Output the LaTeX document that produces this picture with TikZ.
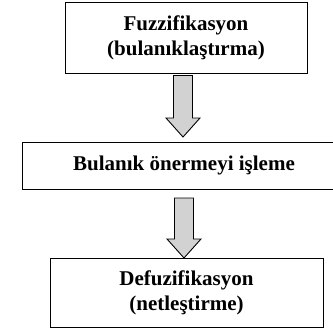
\documentclass[tikz,border=0pt]{standalone}
\usepackage{fontspec}
\setmainfont{Liberation Serif}
\usetikzlibrary{calc}
\tikzset{
  stage/.style={draw=black, line width=0.9pt, font=\bfseries\fontsize{21}{25}\selectfont, align=center, inner sep=0pt},
  arrowbody/.style={draw=black, line width=0.9pt, fill=gray!35, line join=miter},
}
% hollow block arrow pointing down, from a top coordinate to a tip coordinate
\newcommand{\blockdown}[2]{%
  \draw[arrowbody] ($(#1)+(-9.5,0)$) -- ($(#2)+(-9.5,19)$) -- ($(#2)+(-17,19)$) -- (#2)
    -- ($(#2)+(17,19)$) -- ($(#2)+(9.5,19)$) -- ($(#1)+(9.5,0)$) -- cycle;}
\begin{document}
\begin{tikzpicture}[x=1pt, y=1pt]
  \useasboundingbox (0,0) rectangle (333,-332);
  \clip (0,0) rectangle (333,-332);
  \fill[white] (0,0) rectangle (333,-332);

  % process stages
  \node[stage, minimum width=242, minimum height=71] (fuzz) at (186,-37.5)
    {Fuzzifikasyon\\(bulanıklaştırma)};
  \node[stage, minimum width=324, minimum height=47] (rule) at (184,-165.5)
    {Bulanık önermeyi işleme};
  \node[stage, minimum width=273, minimum height=69] (defuzz) at (186.5,-292.5)
    {Defuzifikasyon\\(netleştirme)};

  % flow arrows between the stages
  \coordinate (a1top) at ($(fuzz.south)+(-3,-2)$);
  \coordinate (a1tip) at (183,-137);
  \blockdown{a1top}{a1tip}
  \coordinate (a2top) at (184,-198);
  \coordinate (a2tip) at (184,-258);
  \blockdown{a2top}{a2tip}
\end{tikzpicture}
\end{document}
